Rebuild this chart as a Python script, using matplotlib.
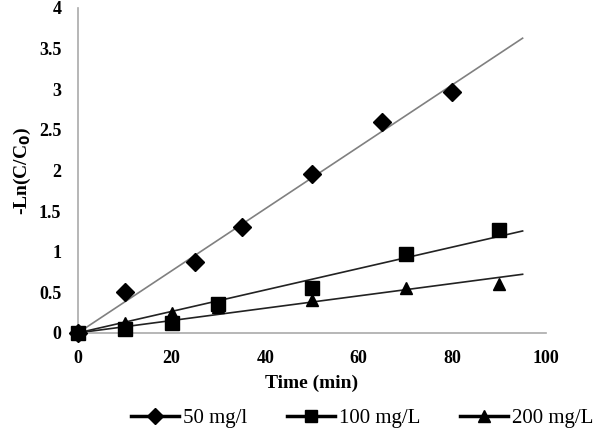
import numpy as np
import matplotlib.pyplot as plt

time_50 = [0, 10, 25, 35, 50, 65, 80]
ln_50 = [0, 0.5, 0.87, 1.3, 1.95, 2.6, 2.96]
time_100 = [0, 10, 20, 30, 50, 70, 90]
ln_100 = [0, 0.05, 0.12, 0.35, 0.55, 0.97, 1.27]
time_200 = [0, 10, 20, 30, 50, 70, 90]
ln_200 = [0, 0.12, 0.25, 0.32, 0.4, 0.55, 0.6]
labels = ['50 mg/l', '100 mg/L', '200 mg/L']

plt.rcParams['font.family'] = ['Liberation Serif', 'DejaVu Serif']

fig = plt.figure(figsize=(6, 4.38), dpi=100)
ax = fig.add_axes([0.13, 0.24, 0.78, 0.742])

series = [(time_50, ln_50, 'D', 9, '#808080', 3),
          (time_200, ln_200, '^', 9, '#222222', 4),
          (time_100, ln_100, 's', 10, '#222222', 5)]

handles = {}
for t, y, m, ms, lc, z in series:
    t = np.array(t, float)
    y = np.array(y, float)
    # linear trend forced through the origin
    k = (t * y).sum() / (t * t).sum()
    xx = np.array([0, 95])
    ax.plot(xx, k * xx, color=lc, lw=1.2, zorder=2)
    ax.plot(t, y, linestyle='none', marker=m, ms=ms, color='black',
            zorder=z, clip_on=False)
    h, = ax.plot([], [], color='black', lw=2.5, marker=m, ms=ms - 1)
    handles[m] = h

ax.set_xlim(0, 100)
ax.set_ylim(0, 4)
ax.set_xticks(range(0, 101, 20))
ax.set_yticks(np.arange(0, 4.01, 0.5))
ax.set_yticklabels(['0', '0.5', '1', '1.5', '2', '2.5', '3', '3.5', '4'])
ax.tick_params(length=0, labelsize=13, pad=12)
for lab in ax.get_xticklabels() + ax.get_yticklabels():
    lab.set_fontweight('bold')
for s in ['top', 'right']:
    ax.spines[s].set_visible(False)
for s in ['left', 'bottom']:
    ax.spines[s].set_color('#aaaaaa')
    ax.spines[s].set_linewidth(1.2)

ax.set_xlabel('Time (min)', fontsize=14, fontweight='bold', labelpad=6)
ax.set_ylabel(r'-Ln(C/C$_\mathbf{0}$)', fontsize=14, fontweight='bold')

fig.legend(handles=[handles['D'], handles['s'], handles['^']], labels=labels,
           loc='lower right', ncol=3, frameon=False,
           bbox_to_anchor=(1.02, -0.02), handlelength=2.3,
           handletextpad=0.2, columnspacing=1.9, prop={'size': 15})

fig.savefig('out.png', dpi=100)
